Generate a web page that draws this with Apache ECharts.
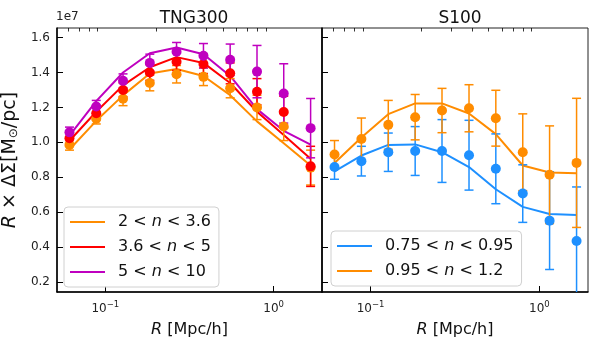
<!DOCTYPE html>
<html>
<head>
<meta charset="utf-8">
<script src="https://cdn.jsdelivr.net/npm/echarts@6/dist/echarts.min.js"></script>
<style>
  html, body { margin: 0; padding: 0; background: #fff; }
  #chart { width: 598px; height: 343px; }
</style>
</head>
<body>
<div id="chart"></div>
<script>
// radial bins (same for both panels)
const rBins = [0.0612, 0.0883, 0.1274, 0.1838, 0.265, 0.383, 0.552, 0.797, 1.149, 1.66];
const yTicks = [0.2, 0.4, 0.6, 0.8, 1.0, 1.2, 1.4, 1.6];
const xMajor = [0.1, 1];
const xMinor = [0.06, 0.07, 0.08, 0.09, 0.2, 0.3, 0.4, 0.5, 0.6, 0.7, 0.8, 0.9];

// TNG300 (values in units of 1e7)
const tngOrange = [0.985, 1.135, 1.25, 1.34, 1.39, 1.375, 1.31, 1.20, 1.09, 0.855];
const tngOrangeErr = [0.03, 0.03, 0.04, 0.045, 0.05, 0.05, 0.055, 0.07, 0.08, 0.10];
const tngOrangeFit = [0.959, 1.123, 1.269, 1.394, 1.42, 1.38, 1.27, 1.12, 0.995, 0.867];
const tngRed = [1.023, 1.166, 1.30, 1.40, 1.462, 1.449, 1.395, 1.29, 1.174, 0.862];
const tngRedErr = [0.03, 0.035, 0.04, 0.045, 0.05, 0.055, 0.06, 0.075, 0.09, 0.115];
const tngRedFit = [1.009, 1.175, 1.326, 1.43, 1.488, 1.455, 1.34, 1.175, 1.042, 0.905];
const tngPurple = [1.057, 1.205, 1.352, 1.455, 1.519, 1.496, 1.473, 1.405, 1.28, 1.081];
const tngPurpleErr = [0.03, 0.035, 0.04, 0.05, 0.053, 0.07, 0.09, 0.15, 0.17, 0.17];
const tngPurpleFit = [1.038, 1.236, 1.40, 1.51, 1.543, 1.505, 1.38, 1.19, 1.066, 0.986];

// S100
const sBlue = [0.858, 0.892, 0.943, 0.95, 0.95, 0.926, 0.848, 0.706, 0.551, 0.434];
const sBlueErr = [0.07, 0.085, 0.11, 0.14, 0.18, 0.2, 0.2, 0.165, 0.28, 0.31];
const sBlueFit = [0.833, 0.924, 0.985, 0.988, 0.943, 0.858, 0.731, 0.63, 0.589, 0.583];
const sOrange = [0.93, 1.019, 1.10, 1.144, 1.182, 1.195, 1.138, 0.943, 0.814, 0.882];
const sOrangeErr = [0.08, 0.12, 0.14, 0.13, 0.127, 0.135, 0.16, 0.22, 0.28, 0.37];
const sOrangeFit = [0.881, 1.028, 1.161, 1.223, 1.223, 1.165, 1.047, 0.867, 0.827, 0.823];

const C_ORANGE = '#ff8c00', C_RED = '#ff0000', C_PURPLE = '#bf00bf', C_BLUE = '#1e90ff';
const FONT = 'DejaVu Sans';

const chart = echarts.init(document.getElementById('chart'));

function fitLine(name, grid, vals, color) {
  return {
    name: name, type: 'line', xAxisIndex: grid * 2, yAxisIndex: grid,
    data: rBins.map((r, i) => [r, vals[i]]),
    symbol: 'none', lineStyle: { color: color, width: 2 }, itemStyle: { color: color },
    z: 2, silent: true
  };
}
function points(grid, vals, color) {
  return {
    type: 'scatter', xAxisIndex: grid * 2, yAxisIndex: grid,
    data: rBins.map((r, i) => [r, vals[i]]),
    symbolSize: 10, itemStyle: { color: color, opacity: 1 }, z: 4, silent: true
  };
}
function errBars(grid, vals, errs, color) {
  return {
    type: 'custom', xAxisIndex: grid * 2, yAxisIndex: grid, clip: true, z: 3, silent: true,
    data: rBins.map((r, i) => [r, vals[i] - errs[i], vals[i] + errs[i]]),
    encode: { x: 0, y: [1, 2] },
    renderItem: function (params, api) {
      const lo = api.coord([api.value(0), api.value(1)]);
      const hi = api.coord([api.value(0), api.value(2)]);
      const w = 4.5;
      const st = { stroke: color, lineWidth: 1.5 };
      return {
        type: 'group', children: [
          { type: 'line', shape: { x1: lo[0], y1: lo[1], x2: hi[0], y2: hi[1] }, style: st },
          { type: 'line', shape: { x1: hi[0] - w, y1: hi[1], x2: hi[0] + w, y2: hi[1] }, style: st },
          { type: 'line', shape: { x1: lo[0] - w, y1: lo[1], x2: lo[0] + w, y2: lo[1] }, style: st }
        ]
      };
    }
  };
}

function xAxes(grid) {
  return [
    {
      type: 'log', gridIndex: grid, min: 0.0516, max: 1.94, logBase: 10,
      name: '{i|R} [Mpc/h]', nameLocation: 'middle', nameGap: 30,
      nameTextStyle: { fontFamily: FONT, fontSize: 16, color: '#111', rich: { i: { fontFamily: FONT, fontSize: 16, fontStyle: 'italic', color: '#111' } } },
      axisLine: { onZero: false, lineStyle: { color: '#000', width: 1.5 } },
      axisTick: { show: true, inside: true, length: 6, customValues: xMajor, lineStyle: { color: '#000', width: 1 } },
      axisLabel: {
        customValues: xMajor, margin: 8, fontFamily: FONT, fontSize: 12, color: '#222',
        formatter: v => v < 0.5 ? '{b|10}{s|−1}' : '{b|10}{s|0}',
        rich: { b: { fontFamily: FONT, fontSize: 12, color: '#222' }, s: { fontFamily: FONT, fontSize: 8.5, color: '#222', padding: [0, 0, 9, 0] } }
      },
      splitLine: { show: false }
    },
    {
      type: 'log', gridIndex: grid, min: 0.0516, max: 1.94, logBase: 10,
      axisLine: { show: false },
      axisTick: { show: true, inside: true, length: 3.5, customValues: xMinor, lineStyle: { color: '#000', width: 0.8 } },
      axisLabel: { show: false }, splitLine: { show: false }
    }
  ];
}

function yAxis(grid) {
  const ax = {
    type: 'value', gridIndex: grid, min: 0.142, max: 1.655,
    axisLine: { show: true, onZero: false, lineStyle: { color: '#000', width: 1.5 } },
    axisTick: { show: true, inside: true, length: 6, customValues: yTicks, lineStyle: { color: '#000', width: 1 } },
    axisLabel: {
      show: grid === 0, customValues: yTicks, margin: 7, fontFamily: FONT, fontSize: 12, color: '#222',
      formatter: v => v.toFixed(1)
    },
    splitLine: { show: false }
  };
  if (grid === 0) {
    ax.name = '{i|R} × ΔΣ[M{s|⊙}/pc]';
    ax.nameLocation = 'middle';
    ax.nameGap = 37;
    ax.nameRotate = 90;
    ax.nameTextStyle = {
      fontFamily: FONT, fontSize: 19, color: '#111',
      rich: {
        i: { fontFamily: FONT, fontSize: 19, fontStyle: 'italic', color: '#111' },
        s: { fontFamily: FONT, fontSize: 12, color: '#111', padding: [7, 0, 0, 0] }
      }
    };
  }
  return ax;
}

const legendRich = {
  t: { fontFamily: FONT, fontSize: 16, color: '#111' },
  i: { fontFamily: FONT, fontSize: 16, fontStyle: 'italic', color: '#111' }
};
function legendFmt(name) {
  const p = name.split('n');
  return '{t|' + p[0] + '}{i|n}{t|' + p[1] + '}';
}

const nO = '2 < n < 3.6', nR = '3.6 < n < 5', nP = '5 < n < 10';
const nB = '0.75 < n < 0.95', nO2 = '0.95 < n < 1.2 ';

function legendBox(names, left, top) {
  return {
    data: names.map(n => ({ name: n, icon: 'rect' })), orient: 'vertical', left: left, top: top,
    itemWidth: 35, itemHeight: 2, itemGap: 5, padding: [5, 8, 5, 6],
    backgroundColor: 'rgba(255,255,255,0.85)', borderColor: '#d0d0d0', borderWidth: 1, borderRadius: 4,
    formatter: legendFmt,
    textStyle: { fontFamily: FONT, fontSize: 16, lineHeight: 20, color: '#111', padding: [0, 0, 0, 8], rich: legendRich },
    selectedMode: false
  };
}

const option = {
  animation: false,
  backgroundColor: '#fff',
  grid: [
    { left: 56, top: 28, width: 266, height: 265, show: true, borderColor: '#222', borderWidth: 1 },
    { left: 322, top: 28, width: 266, height: 265, show: true, borderColor: '#222', borderWidth: 1 }
  ],
  title: [
    { text: 'TNG300', left: 189, top: 5, textAlign: 'center', textStyle: { fontFamily: FONT, fontSize: 17, fontWeight: 'normal', color: '#111' } },
    { text: 'S100', left: 455, top: 5, textAlign: 'center', textStyle: { fontFamily: FONT, fontSize: 17, fontWeight: 'normal', color: '#111' } }
  ],
  graphic: [
    { type: 'text', left: 56, top: 11, style: { text: '1e7', fontFamily: FONT, fontSize: 12, fill: '#222' } }
  ],
  legend: [
    legendBox([nO, nR, nP], 64, 207),
    legendBox([nB, nO2], 331, 231)
  ],
  xAxis: xAxes(0).concat(xAxes(1)),
  yAxis: [yAxis(0), yAxis(1)],
  series: [
    fitLine(nO, 0, tngOrangeFit, C_ORANGE),
    fitLine(nR, 0, tngRedFit, C_RED),
    fitLine(nP, 0, tngPurpleFit, C_PURPLE),
    errBars(0, tngOrange, tngOrangeErr, C_ORANGE),
    points(0, tngOrange, C_ORANGE),
    errBars(0, tngRed, tngRedErr, C_RED),
    points(0, tngRed, C_RED),
    errBars(0, tngPurple, tngPurpleErr, C_PURPLE),
    points(0, tngPurple, C_PURPLE),

    fitLine(nB, 1, sBlueFit, C_BLUE),
    fitLine(nO2, 1, sOrangeFit, C_ORANGE),
    errBars(1, sBlue, sBlueErr, C_BLUE),
    points(1, sBlue, C_BLUE),
    errBars(1, sOrange, sOrangeErr, C_ORANGE),
    points(1, sOrange, C_ORANGE)
  ]
};

chart.setOption(option);
</script>
</body>
</html>
